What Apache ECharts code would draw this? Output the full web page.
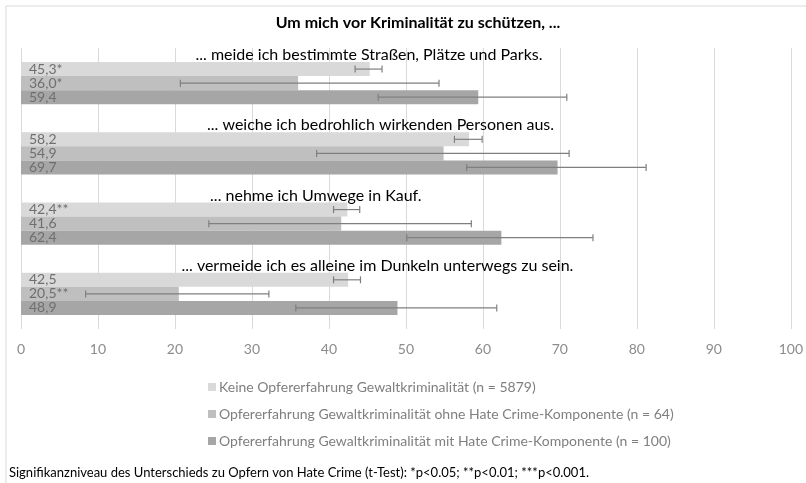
<!DOCTYPE html>
<html>
<head>
<meta charset="utf-8">
<title>Um mich vor Kriminalität zu schützen</title>
<script src="https://cdn.jsdelivr.net/npm/echarts@6/dist/echarts.min.js"></script>
<style>
  html, body { margin: 0; padding: 0; background: #fff; }
  #chart { width: 806px; height: 483px; }
</style>
</head>
<body>
<div id="chart"></div>
<script>
// categories (group titles)
const categories = [
  '... meide ich bestimmte Straßen, Plätze und Parks.',
  '... weiche ich bedrohlich wirkenden Personen aus.',
  '... nehme ich Umwege in Kauf.',
  '... vermeide ich es alleine im Dunkeln unterwegs zu sein.'
];
// where each group title sits on the x axis (value units, centre of text)
const titleAt = [45.2, 46.7, 38.3, 46.3];

const seriesNames = [
  'Keine Opfererfahrung Gewaltkriminalität (n = 5879)',
  'Opfererfahrung Gewaltkriminalität ohne Hate Crime-Komponente (n = 64)',
  'Opfererfahrung Gewaltkriminalität mit Hate Crime-Komponente (n = 100)'
];

const keineValues = [45.3, 58.2, 42.4, 42.5];
const ohneValues = [36.0, 54.9, 41.6, 20.5];
const mitValues = [59.4, 69.7, 62.4, 48.9];

const keineLabels = ['45,3*', '58,2', '42,4**', '42,5'];
const ohneLabels = ['36,0*', '54,9', '41,6', '20,5**'];
const mitLabels = ['59,4', '69,7', '62,4', '48,9'];

// confidence intervals (low / high)
const keineLow = [43.4, 56.3, 40.6, 40.6];
const keineHigh = [46.9, 59.9, 44.0, 44.1];
const ohneLow = [20.7, 38.4, 24.4, 8.4];
const ohneHigh = [54.3, 71.2, 58.5, 32.2];
const mitLow = [46.4, 57.9, 50.1, 35.7];
const mitHigh = [70.9, 81.2, 74.3, 61.8];

const xTicks = [0, 10, 20, 30, 40, 50, 60, 70, 80, 90, 100];

const FONT = "'Liberation Sans Narrow', 'Arial Narrow', Lato, sans-serif";
const colors = ['#d9d9d9', '#bfbfbf', '#a6a6a6'];

const chart = echarts.init(document.getElementById('chart'));

function barSeries(name, values, labels, color) {
  return {
    name: name,
    type: 'bar',
    barGap: '0%',
    barCategoryGap: '40%',
    itemStyle: { color: color },
    label: {
      show: true,
      position: 'insideLeft',
      distance: 8,
      color: '#6f6f6f',
      fontFamily: FONT,
      fontSize: 14,
      formatter: p => labels[p.dataIndex]
    },
    data: values
  };
}

function errorSeries(pos, low, high) {
  return {
    type: 'custom',
    silent: true,
    z: 5,
    encode: { x: [1, 2], y: 0 },
    renderItem: (params, api) => {
      const cat = api.value(0);
      const a = api.coord([api.value(1), cat]);
      const b = api.coord([api.value(2), cat]);
      const band = api.size([0, 1])[1];
      const y = a[1] + (pos - 1) * band * 0.2;
      const cap = 3.5;
      const style = { stroke: '#7f7f7f', lineWidth: 1.2 };
      return {
        type: 'group',
        children: [
          { type: 'line', shape: { x1: a[0], y1: y, x2: b[0], y2: y }, style: style },
          { type: 'line', shape: { x1: a[0], y1: y - cap, x2: a[0], y2: y + cap }, style: style },
          { type: 'line', shape: { x1: b[0], y1: y - cap, x2: b[0], y2: y + cap }, style: style }
        ]
      };
    },
    data: low.map((v, i) => [i, v, high[i]])
  };
}

const option = {
  animation: false,
  title: {
    text: 'Um mich vor Kriminalität zu schützen, ...',
    left: 413,
    top: 10,
    textAlign: 'center',
    textStyle: { fontFamily: FONT, fontSize: 16, fontWeight: 'bold', color: '#000' }
  },
  graphic: [
    {
      type: 'rect',
      silent: true,
      shape: { x: 6, y: 6, width: 900, height: 600 },
      style: { fill: 'none', stroke: '#d9d9d9', lineWidth: 1 }
    },
    {
      type: 'text',
      left: 9,
      top: 466,
      style: {
        text: 'Signifikanzniveau des Unterschieds zu Opfern von Hate Crime (t-Test): *p<0.05; **p<0.01; ***p<0.001.',
        fontFamily: FONT,
        fontSize: 13,
        fill: '#000'
      }
    }
  ],
  legend: {
    orient: 'vertical',
    left: 203,
    top: 375,
    itemGap: 13,
    itemWidth: 8,
    itemHeight: 8,
    icon: 'rect',
    data: seriesNames,
    textStyle: { fontFamily: FONT, fontSize: 14, color: '#7f7f7f', padding: [0, 0, 0, -2] }
  },
  grid: { left: 21, right: 15, top: 48, bottom: 154 },
  xAxis: {
    type: 'value',
    min: xTicks[0],
    max: xTicks[xTicks.length - 1],
    interval: xTicks[1] - xTicks[0],
    axisLine: { show: false },
    axisTick: { show: false },
    axisLabel: { color: '#8c8c8c', fontFamily: FONT, fontSize: 14, margin: 13 },
    splitLine: { lineStyle: { color: '#d9d9d9', width: 1 } }
  },
  yAxis: {
    type: 'category',
    inverse: true,
    data: categories,
    axisLine: { show: false },
    axisTick: { show: false },
    axisLabel: { show: false }
  },
  series: [
    barSeries(seriesNames[0], keineValues, keineLabels, colors[0]),
    barSeries(seriesNames[1], ohneValues, ohneLabels, colors[1]),
    barSeries(seriesNames[2], mitValues, mitLabels, colors[2]),
    errorSeries(0, keineLow, keineHigh),
    errorSeries(1, ohneLow, ohneHigh),
    errorSeries(2, mitLow, mitHigh),
    {
      type: 'custom',
      silent: true,
      z: 6,
      encode: { x: 0, y: 1 },
      renderItem: (params, api) => {
        const p = api.coord([api.value(0), api.value(1)]);
        const band = api.size([0, 1])[1];
        return {
          type: 'text',
          x: p[0],
          y: p[1] - band * 0.4,
          style: {
            text: categories[params.dataIndex],
            fontFamily: FONT,
            fontSize: 16,
            fill: '#000',
            align: 'center',
            verticalAlign: 'middle'
          }
        };
      },
      data: titleAt.map((v, i) => [v, i])
    }
  ]
};

chart.setOption(option);
</script>
</body>
</html>
